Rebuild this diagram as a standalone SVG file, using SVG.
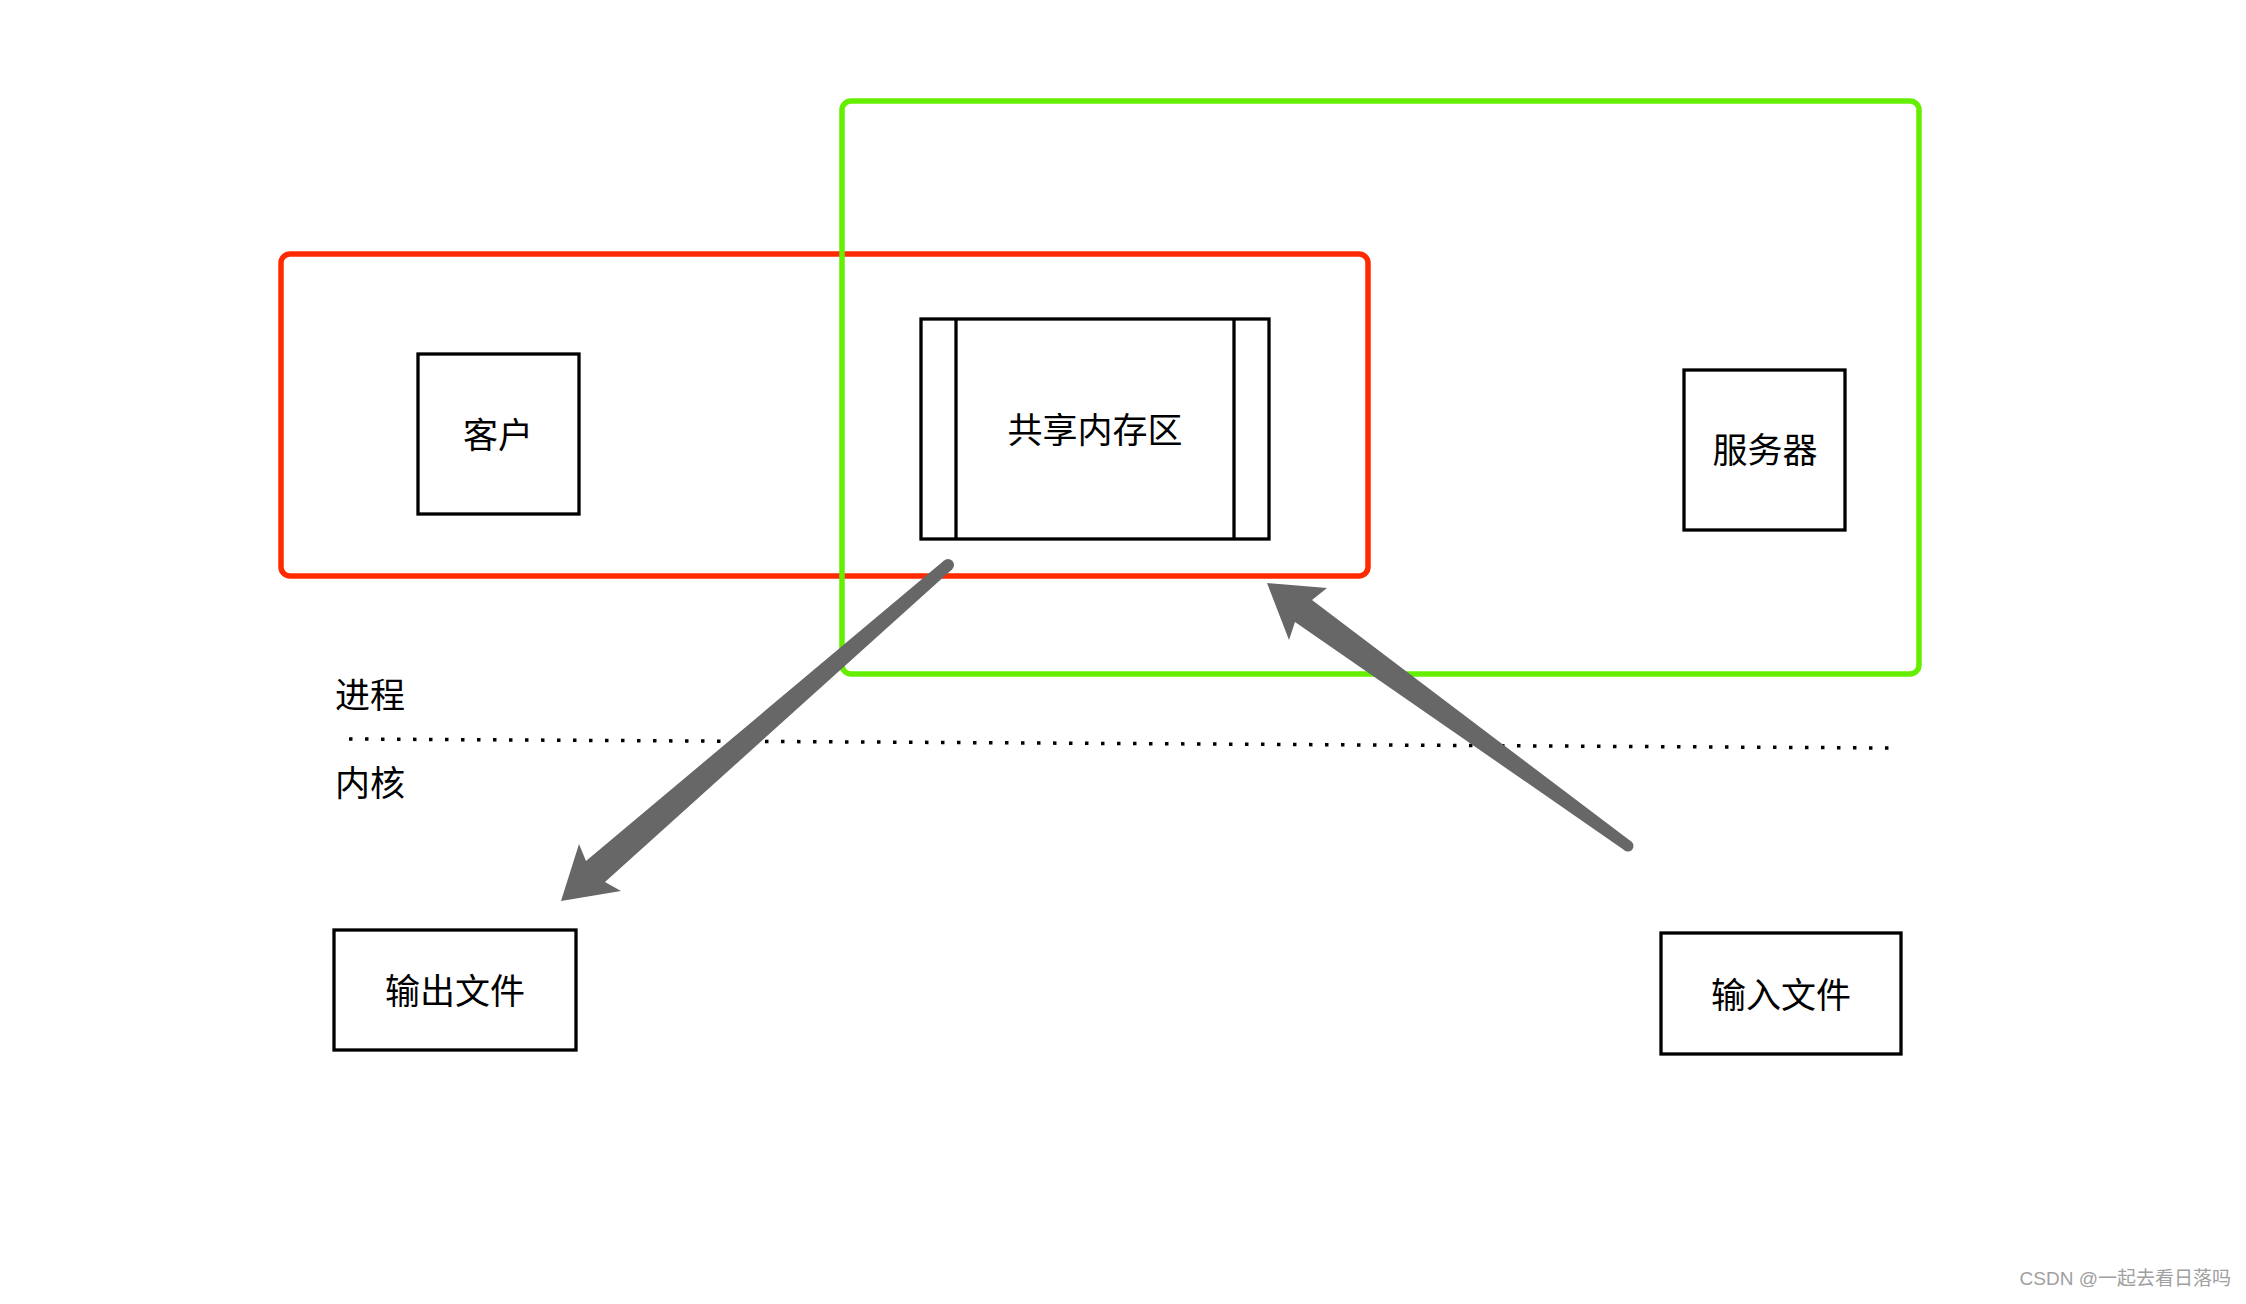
<svg xmlns="http://www.w3.org/2000/svg" width="2246" height="1304" viewBox="0 0 2246 1304">
<style>
.box{fill:#ffffff;stroke:#000000;stroke-width:3.3}
.lbl{font-family:"Noto Sans CJK SC","Noto Sans",sans-serif;font-size:35px;fill:#000000;dominant-baseline:central}
.mid{text-anchor:middle}
.arrow{fill:#676767;stroke:none}
</style>
<rect width="2246" height="1304" fill="#ffffff"/>
<g id="process-client" fill="none">
<rect x="281" y="254" width="1087" height="322" rx="9" stroke="#ff2a00" stroke-width="5.5"/>
</g>
<g id="process-server" fill="none">
<rect x="842" y="101" width="1077" height="573" rx="9" stroke="#66ee00" stroke-width="5.5"/>
</g>
<g id="client">
<rect class="box" x="418" y="354" width="161" height="160"/>
<text class="lbl mid" x="498" y="432">客户</text>
</g>
<g id="shared-memory">
<rect class="box" x="921" y="319" width="348" height="220"/>
<line x1="956" y1="319" x2="956" y2="539" stroke="#000" stroke-width="3.3"/>
<line x1="1234" y1="319" x2="1234" y2="539" stroke="#000" stroke-width="3.3"/>
<text class="lbl mid" x="1095" y="427">共享内存区</text>
</g>
<g id="server">
<rect class="box" x="1684" y="370" width="161" height="160"/>
<text class="lbl mid" x="1765" y="447">服务器</text>
</g>
<g id="output-file">
<rect class="box" x="334" y="930" width="242" height="120"/>
<text class="lbl mid" x="455" y="988">输出文件</text>
</g>
<g id="input-file">
<rect class="box" x="1661" y="933" width="240" height="121"/>
<text class="lbl mid" x="1781" y="992">输入文件</text>
</g>
<g id="boundary">
<line x1="349" y1="739" x2="1890" y2="748" stroke="#000" stroke-width="3.5" stroke-dasharray="3.5 12.5"/>
<text class="lbl" x="335" y="692">进程</text>
<text class="lbl" x="335" y="780">内核</text>
</g>
<g id="connectors">
<path class="arrow" d="M944.1,560.5 L586,861 L579,844 L561,901 L621,891 L605,882 L951.9,569.5 Z"/>
<circle class="arrow" cx="948" cy="565" r="6"/>
<path class="arrow" d="M1631.2,841.6 L1312,600 L1327,588 L1267,583 L1289,640 L1295,622 L1624.8,850.4 Z"/>
<circle class="arrow" cx="1628" cy="846" r="5.5"/>
</g>
<text x="2231" y="1285" text-anchor="end" font-family="'Liberation Sans','Noto Sans CJK SC',sans-serif" font-size="19" fill="#a0a0a0">CSDN @一起去看日落吗</text>
</svg>
